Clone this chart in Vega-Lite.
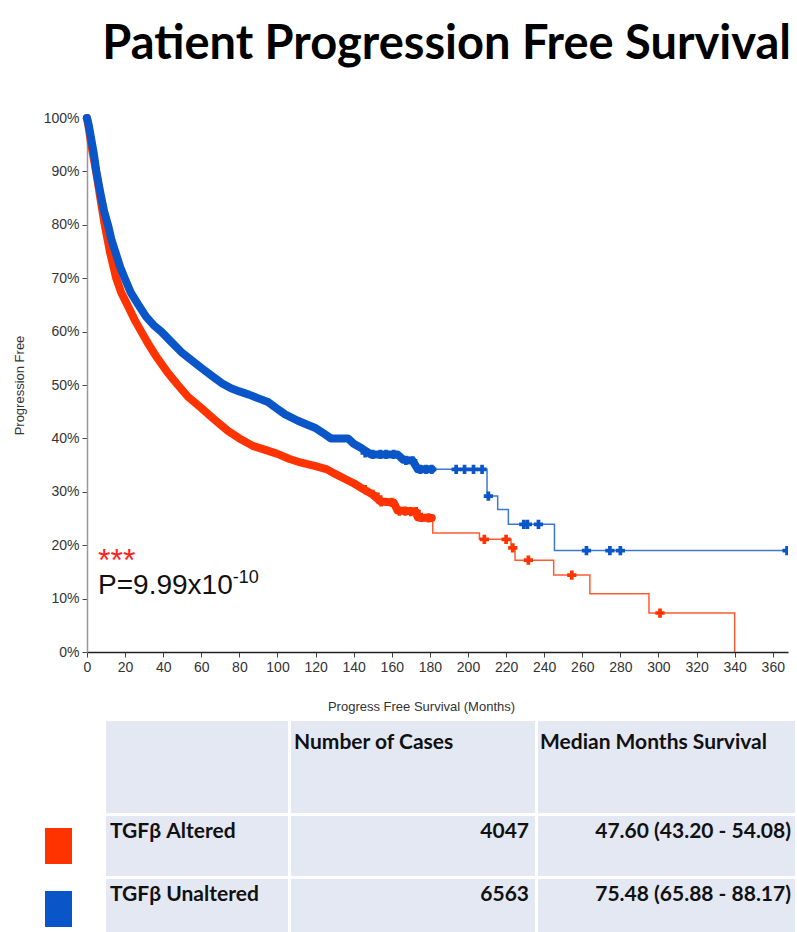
{
  "$schema": "https://vega.github.io/schema/vega-lite/v6.json",
  "padding": {"left": 13, "top": 21, "right": 0, "bottom": 0},
  "background": "white",
  "title": {"text": "Patient Progression Free Survival", "anchor": "end", "frame": "bounds", "font": "Lato", "fontWeight": "bold", "fontSize": 47, "color": "#000", "offset": 42, "dx": -4},
  "datasets": {
    "curve": [
      {"group": "TGFβ Altered", "month": 0, "pct": 100},
      {"group": "TGFβ Altered", "month": 1, "pct": 98},
      {"group": "TGFβ Altered", "month": 2, "pct": 95.5},
      {"group": "TGFβ Altered", "month": 3.5, "pct": 92.5},
      {"group": "TGFβ Altered", "month": 5, "pct": 89.5},
      {"group": "TGFβ Altered", "month": 7, "pct": 85},
      {"group": "TGFβ Altered", "month": 9.3, "pct": 80},
      {"group": "TGFβ Altered", "month": 12, "pct": 75},
      {"group": "TGFβ Altered", "month": 15.3, "pct": 70},
      {"group": "TGFβ Altered", "month": 18, "pct": 67.3},
      {"group": "TGFβ Altered", "month": 21.5, "pct": 64.8},
      {"group": "TGFβ Altered", "month": 25, "pct": 62.2},
      {"group": "TGFβ Altered", "month": 28.5, "pct": 60},
      {"group": "TGFβ Altered", "month": 32, "pct": 57.8},
      {"group": "TGFβ Altered", "month": 37, "pct": 55},
      {"group": "TGFβ Altered", "month": 42, "pct": 52.5},
      {"group": "TGFβ Altered", "month": 47.7, "pct": 50},
      {"group": "TGFβ Altered", "month": 53, "pct": 47.8},
      {"group": "TGFβ Altered", "month": 60, "pct": 45.7},
      {"group": "TGFβ Altered", "month": 67, "pct": 43.5},
      {"group": "TGFβ Altered", "month": 74, "pct": 41.4},
      {"group": "TGFβ Altered", "month": 80, "pct": 40},
      {"group": "TGFβ Altered", "month": 87, "pct": 38.6},
      {"group": "TGFβ Altered", "month": 94, "pct": 37.8},
      {"group": "TGFβ Altered", "month": 100, "pct": 37.1},
      {"group": "TGFβ Altered", "month": 106, "pct": 36.2},
      {"group": "TGFβ Altered", "month": 112, "pct": 35.5},
      {"group": "TGFβ Altered", "month": 120, "pct": 34.8},
      {"group": "TGFβ Altered", "month": 126, "pct": 34.2},
      {"group": "TGFβ Altered", "month": 130, "pct": 33.4},
      {"group": "TGFβ Altered", "month": 135, "pct": 32.5},
      {"group": "TGFβ Altered", "month": 140, "pct": 31.6},
      {"group": "TGFβ Altered", "month": 145, "pct": 30.5},
      {"group": "TGFβ Altered", "month": 150, "pct": 29.5},
      {"group": "TGFβ Altered", "month": 154, "pct": 28.2},
      {"group": "TGFβ Altered", "month": 161, "pct": 28},
      {"group": "TGFβ Altered", "month": 163, "pct": 26.5},
      {"group": "TGFβ Altered", "month": 172.5, "pct": 26.3},
      {"group": "TGFβ Altered", "month": 173.7, "pct": 25.2},
      {"group": "TGFβ Altered", "month": 181, "pct": 25.1},
      {"group": "TGFβ Altered", "month": 181.5, "pct": 22.3},
      {"group": "TGFβ Altered", "month": 206, "pct": 21.1},
      {"group": "TGFβ Altered", "month": 222.6, "pct": 19.5},
      {"group": "TGFβ Altered", "month": 224.7, "pct": 17.2},
      {"group": "TGFβ Altered", "month": 245, "pct": 14.4},
      {"group": "TGFβ Altered", "month": 264, "pct": 10.9},
      {"group": "TGFβ Altered", "month": 295, "pct": 7.3},
      {"group": "TGFβ Altered", "month": 340, "pct": 0},
      {"group": "TGFβ Unaltered", "month": 0, "pct": 100},
      {"group": "TGFβ Unaltered", "month": 1, "pct": 98.5},
      {"group": "TGFβ Unaltered", "month": 2, "pct": 96.5},
      {"group": "TGFβ Unaltered", "month": 3.5, "pct": 93.5},
      {"group": "TGFβ Unaltered", "month": 4.9, "pct": 90},
      {"group": "TGFβ Unaltered", "month": 7, "pct": 86},
      {"group": "TGFβ Unaltered", "month": 9, "pct": 82.5},
      {"group": "TGFβ Unaltered", "month": 11, "pct": 80},
      {"group": "TGFβ Unaltered", "month": 13, "pct": 77},
      {"group": "TGFβ Unaltered", "month": 15, "pct": 74.8},
      {"group": "TGFβ Unaltered", "month": 17.5, "pct": 72},
      {"group": "TGFβ Unaltered", "month": 19.8, "pct": 70},
      {"group": "TGFβ Unaltered", "month": 23, "pct": 67.3},
      {"group": "TGFβ Unaltered", "month": 27, "pct": 65},
      {"group": "TGFβ Unaltered", "month": 31, "pct": 62.8},
      {"group": "TGFβ Unaltered", "month": 35, "pct": 61.2},
      {"group": "TGFβ Unaltered", "month": 39, "pct": 60},
      {"group": "TGFβ Unaltered", "month": 45, "pct": 57.8},
      {"group": "TGFβ Unaltered", "month": 50, "pct": 56},
      {"group": "TGFβ Unaltered", "month": 55, "pct": 54.6},
      {"group": "TGFβ Unaltered", "month": 60, "pct": 53.2},
      {"group": "TGFβ Unaltered", "month": 66, "pct": 51.6},
      {"group": "TGFβ Unaltered", "month": 71, "pct": 50.3},
      {"group": "TGFβ Unaltered", "month": 75.6, "pct": 49.4},
      {"group": "TGFβ Unaltered", "month": 80, "pct": 48.8},
      {"group": "TGFβ Unaltered", "month": 85, "pct": 48.2},
      {"group": "TGFβ Unaltered", "month": 90, "pct": 47.5},
      {"group": "TGFβ Unaltered", "month": 95, "pct": 46.8},
      {"group": "TGFβ Unaltered", "month": 100, "pct": 45.5},
      {"group": "TGFβ Unaltered", "month": 104, "pct": 44.5},
      {"group": "TGFβ Unaltered", "month": 110.7, "pct": 43.3},
      {"group": "TGFβ Unaltered", "month": 116, "pct": 42.5},
      {"group": "TGFβ Unaltered", "month": 119.6, "pct": 42},
      {"group": "TGFβ Unaltered", "month": 124, "pct": 41},
      {"group": "TGFβ Unaltered", "month": 128, "pct": 40},
      {"group": "TGFβ Unaltered", "month": 137, "pct": 40},
      {"group": "TGFβ Unaltered", "month": 140, "pct": 39},
      {"group": "TGFβ Unaltered", "month": 144, "pct": 38.2},
      {"group": "TGFβ Unaltered", "month": 149, "pct": 37},
      {"group": "TGFβ Unaltered", "month": 163, "pct": 37},
      {"group": "TGFβ Unaltered", "month": 166, "pct": 36},
      {"group": "TGFβ Unaltered", "month": 171, "pct": 35.8},
      {"group": "TGFβ Unaltered", "month": 173.7, "pct": 34.2},
      {"group": "TGFβ Unaltered", "month": 181, "pct": 34.2},
      {"group": "TGFβ Unaltered", "month": 209, "pct": 34.2},
      {"group": "TGFβ Unaltered", "month": 210, "pct": 29.2},
      {"group": "TGFβ Unaltered", "month": 215.6, "pct": 26.7},
      {"group": "TGFβ Unaltered", "month": 221.2, "pct": 23.9},
      {"group": "TGFβ Unaltered", "month": 245.4, "pct": 19},
      {"group": "TGFβ Unaltered", "month": 368, "pct": 19}
    ],
    "censor": [
      {"group": "TGFβ Altered", "month": 146, "pct": 30.4},
      {"group": "TGFβ Altered", "month": 150, "pct": 29.5},
      {"group": "TGFβ Altered", "month": 152.7, "pct": 29},
      {"group": "TGFβ Altered", "month": 154.4, "pct": 28.1},
      {"group": "TGFβ Altered", "month": 160, "pct": 28},
      {"group": "TGFβ Altered", "month": 164, "pct": 26.4},
      {"group": "TGFβ Altered", "month": 167, "pct": 26.4},
      {"group": "TGFβ Altered", "month": 170, "pct": 26.3},
      {"group": "TGFβ Altered", "month": 172.8, "pct": 26.3},
      {"group": "TGFβ Altered", "month": 175.4, "pct": 25.2},
      {"group": "TGFβ Altered", "month": 179.3, "pct": 25.1},
      {"group": "TGFβ Altered", "month": 208.6, "pct": 21.1},
      {"group": "TGFβ Altered", "month": 220, "pct": 21.1},
      {"group": "TGFβ Altered", "month": 223.5, "pct": 19.5},
      {"group": "TGFβ Altered", "month": 231.7, "pct": 17.2},
      {"group": "TGFβ Altered", "month": 254.5, "pct": 14.4},
      {"group": "TGFβ Altered", "month": 300.8, "pct": 7.3},
      {"group": "TGFβ Unaltered", "month": 146, "pct": 37.3},
      {"group": "TGFβ Unaltered", "month": 150, "pct": 37},
      {"group": "TGFβ Unaltered", "month": 154, "pct": 37},
      {"group": "TGFβ Unaltered", "month": 157, "pct": 37},
      {"group": "TGFβ Unaltered", "month": 161, "pct": 37},
      {"group": "TGFβ Unaltered", "month": 167.4, "pct": 35.9},
      {"group": "TGFβ Unaltered", "month": 171, "pct": 35.8},
      {"group": "TGFβ Unaltered", "month": 175, "pct": 34.2},
      {"group": "TGFβ Unaltered", "month": 178, "pct": 34.2},
      {"group": "TGFβ Unaltered", "month": 181, "pct": 34.2},
      {"group": "TGFβ Unaltered", "month": 193.8, "pct": 34.2},
      {"group": "TGFβ Unaltered", "month": 198.2, "pct": 34.2},
      {"group": "TGFβ Unaltered", "month": 202.9, "pct": 34.2},
      {"group": "TGFβ Unaltered", "month": 207.4, "pct": 34.2},
      {"group": "TGFβ Unaltered", "month": 210.7, "pct": 29.2},
      {"group": "TGFβ Unaltered", "month": 229.3, "pct": 23.9},
      {"group": "TGFβ Unaltered", "month": 231.2, "pct": 23.9},
      {"group": "TGFβ Unaltered", "month": 237, "pct": 23.9},
      {"group": "TGFβ Unaltered", "month": 262.2, "pct": 19},
      {"group": "TGFβ Unaltered", "month": 274.5, "pct": 19},
      {"group": "TGFβ Unaltered", "month": 280, "pct": 19},
      {"group": "TGFβ Unaltered", "month": 367.5, "pct": 19}
    ],
    "table": [
      {"group": "TGFβ Altered", "cases": "4047", "median": "47.60 (43.20 - 54.08)"},
      {"group": "TGFβ Unaltered", "cases": "6563", "median": "75.48 (65.88 - 88.17)"}
    ]
  },
  "spacing": 8,
  "vconcat": [
    {
      "width": 701,
      "height": 534,
      "encoding": {
        "x": {"field": "month", "type": "quantitative", "title": "Progress Free Survival (Months)",
          "scale": {"domain": [0, 368], "nice": false, "zero": false},
          "axis": {"values": [0,20,40,60,80,100,120,140,160,180,200,220,240,260,280,300,320,340,360], "tickCount": 19, "labelOverlap": false, "labelFlush": false, "titleX": 334, "titleAlign": "center"}},
        "y": {"field": "pct", "type": "quantitative", "title": "Progression Free",
          "scale": {"domain": [0, 100], "nice": false},
          "axis": {"values": [0,10,20,30,40,50,60,70,80,90,100], "labelOverlap": false, "labelExpr": "datum.value + '%'"}}
      },
      "layer": [
        {
          "data": {"name": "curve"},
          "transform": [{"filter": "datum.month <= 181"}],
          "mark": {"type": "line", "strokeWidth": 8, "strokeCap": "round", "strokeJoin": "round", "interpolate": "linear"},
          "encoding": {
            "color": {"field": "group", "type": "nominal", "scale": {"domain": ["TGFβ Altered", "TGFβ Unaltered"], "range": ["#ff3300", "#0a56c8"]}, "legend": null}
          }
        },
        {
          "data": {"name": "curve"},
          "transform": [{"filter": "datum.month >= 173.7"}],
          "mark": {"type": "line", "strokeWidth": 1.5, "interpolate": "step-after", "opacity": 0.8},
          "encoding": {
            "color": {"field": "group", "type": "nominal", "legend": null}
          }
        },
        {
          "data": {"name": "censor"},
          "mark": {"type": "point", "shape": "cross", "filled": true, "size": 85, "opacity": 1, "clip": true},
          "encoding": {
            "color": {"field": "group", "type": "nominal", "legend": null}
          }
        },
        {
          "data": {"values": [{"month": 5.8, "pct": 15.2, "label": "***"}]},
          "mark": {"type": "text", "align": "left", "baseline": "alphabetic", "font": "Liberation Sans", "fontSize": 32, "color": "#ff2020"},
          "encoding": {"text": {"field": "label"}}
        },
        {
          "data": {"values": [{"month": 5.8, "pct": 10.9, "label": "P=9.99x10"}]},
          "mark": {"type": "text", "align": "left", "baseline": "alphabetic", "font": "Liberation Sans", "fontSize": 28, "color": "#111"},
          "encoding": {"text": {"field": "label"}}
        },
        {
          "data": {"values": [{"month": 76.5, "pct": 12.9, "label": "-10"}]},
          "mark": {"type": "text", "align": "left", "baseline": "alphabetic", "font": "Liberation Sans", "fontSize": 18, "color": "#111"},
          "encoding": {"text": {"field": "label"}}
        }
      ]
    },
    {
      "spacing": 3,
      "vconcat": [
        {
          "spacing": 3,
          "hconcat": [
            {"width": 16, "height": 92, "data": {"values": [{"h": ""}]}, "mark": {"type": "text"}, "encoding": {"text": {"field": "h"}}},
            {"width": 182, "height": 92, "view": {"fill": "#e4e8f3", "stroke": null}, "data": {"values": [{"h": ""}]}, "mark": {"type": "text"}, "encoding": {"text": {"field": "h"}}},
            {"width": 244, "height": 92, "view": {"fill": "#e4e8f3", "stroke": null}, "data": {"values": [{"h": "Number of Cases"}]},
              "mark": {"type": "text", "align": "left", "baseline": "top", "font": "Lato", "fontWeight": "bold", "fontSize": 21, "color": "#111", "dx": 3, "dy": 11},
              "encoding": {"text": {"field": "h"}, "x": {"value": 0}, "y": {"value": 0}}},
            {"width": 257, "height": 92, "view": {"fill": "#e4e8f3", "stroke": null}, "data": {"values": [{"h": "Median Months Survival"}]},
              "mark": {"type": "text", "align": "left", "baseline": "top", "font": "Lato", "fontWeight": "bold", "fontSize": 21, "color": "#111", "dx": 2, "dy": 11},
              "encoding": {"text": {"field": "h"}, "x": {"value": 0}, "y": {"value": 0}}}
          ]
        },
        {
          "spacing": 3,
          "hconcat": [
            {"width": 16, "height": 123, "data": {"name": "table"},
              "mark": {"type": "point", "shape": "M-0.75,-1H0.75V1H-0.75Z", "filled": true, "size": 1296, "opacity": 1, "xOffset": -36.5},
              "encoding": {
                "y": {"field": "group", "type": "nominal", "scale": {"type": "band", "paddingInner": 0.05, "paddingOuter": 0}, "axis": null},
                "color": {"field": "group", "type": "nominal", "scale": {"domain": ["TGFβ Altered", "TGFβ Unaltered"], "range": ["#ff3300", "#0a56c8"]}, "legend": null}
              }},
            {"width": 182, "height": 123, "data": {"name": "table"},
              "encoding": {"y": {"field": "group", "type": "nominal", "scale": {"type": "band", "paddingInner": 0.05, "paddingOuter": 0}, "axis": null}},
              "layer": [
                {"mark": {"type": "rect", "color": "#e4e8f3"}, "encoding": {"x": {"value": 0}, "x2": {"value": "width"}}},
                {"mark": {"type": "text", "align": "left", "baseline": "middle", "font": "Lato", "fontWeight": "bold", "fontSize": 21, "color": "#111", "dx": 4, "dy": 16},
                  "encoding": {"x": {"value": 0}, "y": {"field": "group", "type": "nominal", "bandPosition": 0}, "text": {"field": "group"}}}
              ]},
            {"width": 244, "height": 123, "data": {"name": "table"},
              "encoding": {"y": {"field": "group", "type": "nominal", "scale": {"type": "band", "paddingInner": 0.05, "paddingOuter": 0}, "axis": null}},
              "layer": [
                {"mark": {"type": "rect", "color": "#e4e8f3"}, "encoding": {"x": {"value": 0}, "x2": {"value": "width"}}},
                {"mark": {"type": "text", "align": "right", "baseline": "middle", "font": "Lato", "fontWeight": "bold", "fontSize": 21, "color": "#111", "dx": -6, "dy": 16},
                  "encoding": {"x": {"value": "width"}, "y": {"field": "group", "type": "nominal", "bandPosition": 0}, "text": {"field": "cases"}}}
              ]},
            {"width": 257, "height": 123, "data": {"name": "table"},
              "encoding": {"y": {"field": "group", "type": "nominal", "scale": {"type": "band", "paddingInner": 0.05, "paddingOuter": 0}, "axis": null}},
              "layer": [
                {"mark": {"type": "rect", "color": "#e4e8f3"}, "encoding": {"x": {"value": 0}, "x2": {"value": "width"}}},
                {"mark": {"type": "text", "align": "right", "baseline": "middle", "font": "Lato", "fontWeight": "bold", "fontSize": 21, "color": "#111", "dx": -4, "dy": 16},
                  "encoding": {"x": {"value": "width"}, "y": {"field": "group", "type": "nominal", "bandPosition": 0}, "text": {"field": "median"}}}
              ]}
          ]
        }
      ]
    }
  ],
  "config": {
    "view": {"stroke": null},
    "font": "Liberation Sans",
    "axis": {"grid": false, "labelFont": "Liberation Sans", "titleFont": "Liberation Sans", "labelColor": "#333", "titleColor": "#333", "titleFontWeight": "normal", "tickColor": "#444", "labelFlush": false, "labelOverlap": false, "tickSize": 5, "labelPadding": 3, "labelFontSize": 14, "titleFontSize": 13},
    "axisX": {"domainColor": "#222", "domainWidth": 1.5, "titlePadding": 26},
    "axisY": {"domainColor": "#999", "domainWidth": 1.5, "titlePadding": 17}
  }
}
